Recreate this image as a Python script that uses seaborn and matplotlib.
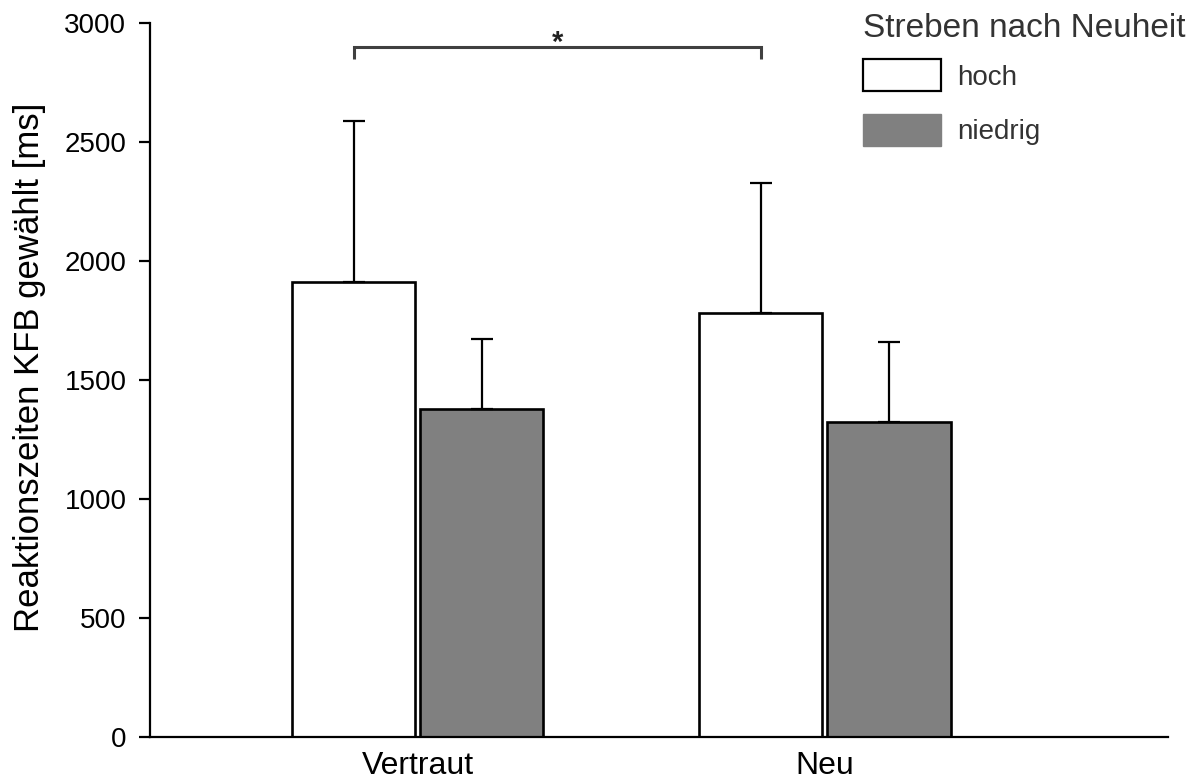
import matplotlib
matplotlib.use("Agg")
import matplotlib.pyplot as plt
import seaborn as sns
import pandas as pd
from matplotlib.patches import Patch

# ---- data ----
categories = ["Vertraut", "Neu"]
groups = ["hoch", "niedrig"]
means_hoch = [1912, 1781]
means_niedrig = [1378, 1324]
err_hoch = [676, 545]
err_niedrig = [294, 336]
yticks = [0, 500, 1000, 1500, 2000, 2500, 3000]
ylabel = "Reaktionszeiten KFB gewählt [ms]"
legend_title = "Streben nach Neuheit"
sig_label = "*"

sns.set_theme(style="white")
plt.rcParams["font.family"] = ["Liberation Sans", "DejaVu Sans"]

df = pd.DataFrame({
    "Bedingung": categories * 2,
    "Gruppe": [groups[0]] * 2 + [groups[1]] * 2,
    "RT": means_hoch + means_niedrig,
})
errs = {groups[0]: err_hoch, groups[1]: err_niedrig}
colors = {"hoch": "white", "niedrig": "#808080"}

fig = plt.figure(figsize=(12.01, 7.80), dpi=100)
ax = fig.add_axes([150 / 1201, 43 / 780, (1168 - 150) / 1201, (737 - 23) / 780])

sns.barplot(data=df, x="Bedingung", y="RT", hue="Gruppe", order=categories,
            hue_order=groups, palette=colors, edgecolor="black", linewidth=1.9,
            width=0.63, gap=0.04, errorbar=None, legend=False, ax=ax)

# upper-only error bars
for cont, g in zip(ax.containers, groups):
    xs = [b.get_x() + b.get_width() / 2 for b in cont]
    ys = [b.get_height() for b in cont]
    ax.errorbar(xs, ys, yerr=[[0] * len(xs), errs[g]], fmt="none",
                ecolor="black", elinewidth=1.6, capsize=8, capthick=1.6, zorder=1)

# significance bracket between the two 'hoch' bars
hb = ax.containers[0]
x1 = hb[0].get_x() + hb[0].get_width() / 2
x2 = hb[1].get_x() + hb[1].get_width() / 2
y_top, y_low = 2899, 2849
ax.plot([x1, x1, x2, x2], [y_low, y_top, y_top, y_low], color="#404040", lw=2.2,
        solid_capstyle="butt", solid_joinstyle="miter", clip_on=False)
ax.text((x1 + x2) / 2, 2884, sig_label, ha="center", va="baseline",
        fontsize=21, fontweight="bold", color="#222222")

ax.set_xlim(-0.658, 1.843)
ax.set_ylim(0, 3000)
ax.set_yticks(yticks)
ax.set_yticklabels([str(t) for t in yticks], fontsize=20, color="black")
ax.tick_params(axis="y", direction="out", length=8, width=1.6, color="black", pad=9, left=True)
ax.tick_params(axis="x", length=0, labelsize=23, labelcolor="black", pad=10)
ax.set_xlabel("")
ax.set_ylabel(ylabel, fontsize=25, color="black")
ax.yaxis.set_label_coords(-0.102, 0.518)
for s in ["top", "right"]:
    ax.spines[s].set_visible(False)
for s in ["left", "bottom"]:
    ax.spines[s].set_color("black")
    ax.spines[s].set_linewidth(1.6)

handles = [Patch(facecolor="white", edgecolor="black", linewidth=1.6, label="hoch"),
           Patch(facecolor="#808080", edgecolor="#808080", label="niedrig")]
leg = fig.legend(handles=handles, title=legend_title, loc="upper left",
                 bbox_to_anchor=(863 / 1201, 1 - 13 / 780), frameon=False,
                 fontsize=20, title_fontsize=24, borderpad=0, borderaxespad=0,
                 handlelength=2.8, handleheight=1.4, handletextpad=0.6,
                 labelspacing=0.8, alignment="left")
leg._legend_box.sep = 11
for t in leg.get_texts():
    t.set_color("#333333")
leg.get_title().set_color("#333333")

fig.savefig("out.png", dpi=100)
